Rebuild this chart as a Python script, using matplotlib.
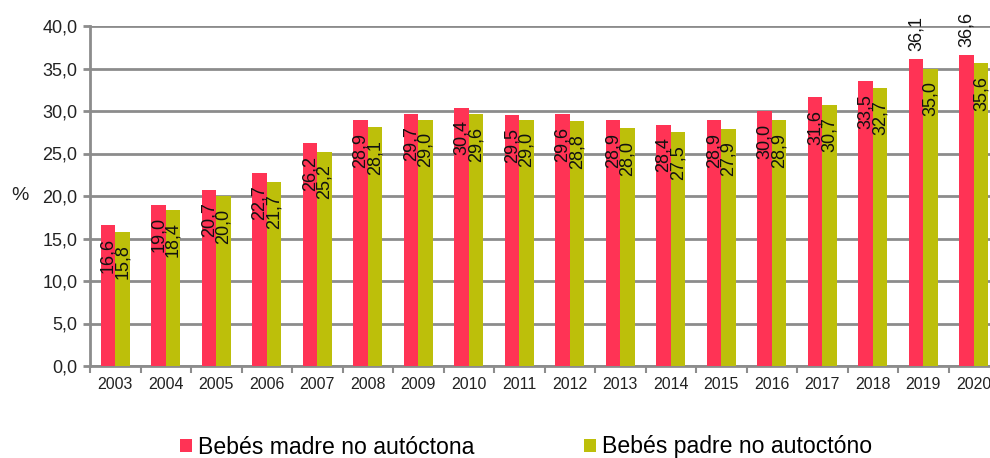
import numpy as np
import matplotlib
matplotlib.use('Agg')
import matplotlib.pyplot as plt

plt.rcParams['font.family'] = ['Liberation Sans', 'DejaVu Sans']

# Data
years = ['2003', '2004', '2005', '2006', '2007', '2008', '2009', '2010', '2011',
         '2012', '2013', '2014', '2015', '2016', '2017', '2018', '2019', '2020']
madre = [16.6, 19.0, 20.7, 22.7, 26.2, 28.9, 29.7, 30.4, 29.5,
         29.6, 28.9, 28.4, 28.9, 30.0, 31.6, 33.5, 36.1, 36.6]
padre = [15.8, 18.4, 20.0, 21.7, 25.2, 28.1, 29.0, 29.6, 29.0,
         28.8, 28.0, 27.5, 27.9, 28.9, 30.7, 32.7, 35.0, 35.6]
series_names = ['Bebés madre no autóctona', 'Bebés padre no autoctóno']
yticks = np.arange(0, 40.1, 5)

RED = '#FF3355'
OLIVE = '#BDBF0A'
GRID = '#8C8C8C'


def fmt(v):
    return f'{v:.1f}'.replace('.', ',')


fig = plt.figure(figsize=(9.9, 4.58), dpi=100)
# the original is cropped on the right, so the axes run a bit past the edge
ax = fig.add_axes([90 / 990, 92 / 458, 909 / 990, 340 / 458])

x = np.arange(len(years))
w = 0.29
b1 = ax.bar(x - w / 2, madre, w, color=RED, label=series_names[0], zorder=3)
b2 = ax.bar(x + w / 2, padre, w, color=OLIVE, label=series_names[1], zorder=3)

# value labels, rotated; the two tallest red ones sit above the bar
for bars, vals in ((b1, madre), (b2, padre)):
    for rect, v in zip(bars, vals):
        cx = rect.get_x() + rect.get_width() / 2
        if bars is b1 and v > 36:
            ax.annotate(fmt(v), (cx, v), xytext=(0, 6), textcoords='offset points',
                        rotation=90, ha='center', va='bottom', fontsize=13,
                        color='#111111', annotation_clip=False, zorder=4)
        else:
            ax.annotate(fmt(v), (cx, v), xytext=(0, -9), textcoords='offset points',
                        rotation=90, ha='center', va='top', fontsize=13,
                        color='#111111', zorder=4)

ax.set_ylim(0, 40)
ax.set_yticks(yticks)
ax.set_yticklabels([fmt(t) for t in yticks], fontsize=13, color='#222222')
ax.set_xlim(-0.5, len(years) - 0.5)
ax.set_xticks(x)
ax.set_xticklabels(years, fontsize=11.5, color='#222222')
ax.set_xticks(np.arange(len(years) + 1) - 0.5, minor=True)

ax.tick_params(axis='x', which='major', length=0, pad=8)
ax.tick_params(axis='x', which='minor', length=5, width=1.5, color=GRID, direction='out')
ax.tick_params(axis='y', length=5, width=2, color=GRID, pad=4)

ax.grid(axis='y', color=GRID, linewidth=2, zorder=0)
for side in ('top', 'right'):
    ax.spines[side].set_visible(False)
for side in ('left', 'bottom'):
    ax.spines[side].set_color(GRID)
    ax.spines[side].set_linewidth(2)

ax.set_ylabel('%', rotation=0, fontsize=14, color='#222222', va='center', ha='center')
ax.yaxis.set_label_coords(-0.077, 0.5)

fig.legend(handles=[b1, b2], loc='center left', bbox_to_anchor=(180 / 990, 11 / 458),
           ncol=2, frameon=False, fontsize=16.6, handlelength=0.52, handleheight=0.5,
           handletextpad=0.26, columnspacing=4.77, borderpad=0, borderaxespad=0)

fig.savefig('out.png', dpi=100)
